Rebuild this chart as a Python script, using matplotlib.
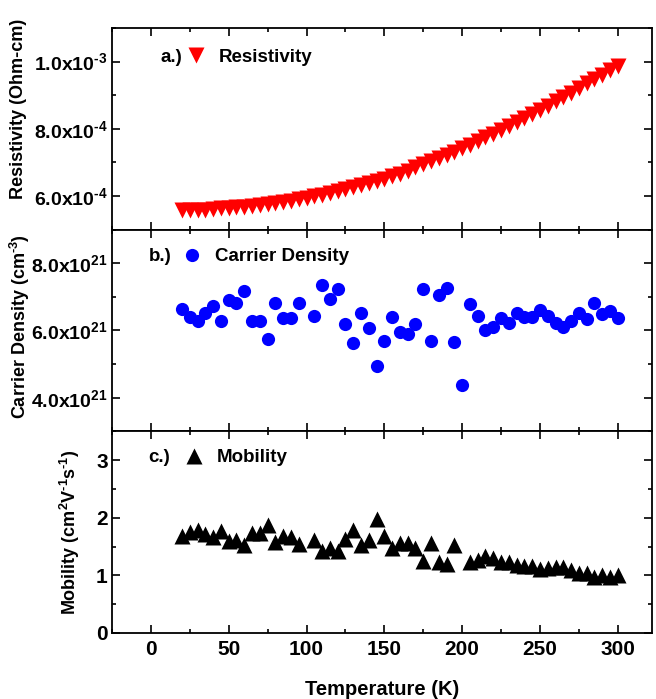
import matplotlib
matplotlib.use("Agg")
import matplotlib.pyplot as plt
from matplotlib.ticker import MultipleLocator, FixedLocator, FixedFormatter
from matplotlib.lines import Line2D

plt.rcParams['font.family'] = ['Liberation Sans', 'DejaVu Sans']
plt.rcParams['font.weight'] = 'bold'
plt.rcParams['mathtext.fontset'] = 'custom'
plt.rcParams['mathtext.rm'] = 'Liberation Sans:bold'
plt.rcParams['mathtext.bf'] = 'Liberation Sans:bold'
plt.rcParams['mathtext.default'] = 'bf'

# ---------------- data ----------------
temp_rho = [20, 25, 30, 35, 40, 45, 50, 55, 60, 65, 70, 75, 80, 85, 90, 95, 100,
            105, 110, 115, 120, 125, 130, 135, 140, 145, 150, 155, 160, 165, 170,
            175, 180, 185, 190, 195, 200, 205, 210, 215, 220, 225, 230, 235, 240,
            245, 250, 255, 260, 265, 270, 275, 280, 285, 290, 295, 300]
resistivity_e4 = [5.59, 5.59, 5.60, 5.60, 5.61, 5.63, 5.64, 5.66, 5.68, 5.71, 5.73,
                  5.76, 5.79, 5.83, 5.86, 5.90, 5.95, 5.99, 6.04, 6.09, 6.14, 6.20,
                  6.26, 6.32, 6.38, 6.45, 6.52, 6.59, 6.67, 6.75, 6.85, 6.94, 7.03,
                  7.12, 7.22, 7.32, 7.43, 7.53, 7.64, 7.75, 7.86, 7.97, 8.08, 8.20,
                  8.32, 8.44, 8.57, 8.69, 8.82, 8.95, 9.08, 9.21, 9.35, 9.48, 9.61,
                  9.74, 9.86]

temp_n = [20, 25, 30, 35, 40, 45, 50, 55, 60, 65, 70, 75, 80, 85, 90, 95,
          105, 110, 115, 120, 125, 130, 135, 140, 145, 150, 155, 160, 165, 170,
          175, 180, 185, 190, 195, 200, 205, 210, 215, 220, 225, 230, 235, 240,
          245, 250, 255, 260, 265, 270, 275, 280, 285, 290, 295, 300]
density_e21 = [6.63, 6.41, 6.27, 6.53, 6.74, 6.28, 6.90, 6.83, 7.18, 6.29, 6.29,
               5.75, 6.83, 6.38, 6.38, 6.83, 6.43, 7.34, 6.95, 7.22, 6.19, 5.63,
               6.51, 6.07, 4.94, 5.68, 6.41, 5.95, 5.89, 6.19, 7.22, 5.70, 7.07,
               7.27, 5.65, 4.37, 6.78, 6.44, 6.02, 6.10, 6.36, 6.22, 6.53, 6.41,
               6.41, 6.61, 6.43, 6.22, 6.09, 6.27, 6.51, 6.33, 6.81, 6.48, 6.59,
               6.36]

temp_mu = [20, 25, 30, 35, 40, 45, 50, 55, 60, 65, 70, 75, 80, 85, 90, 95,
           105, 110, 115, 120, 125, 130, 135, 140, 145, 150, 155, 160, 165, 170,
           175, 180, 185, 190, 195, 205, 210, 215, 220, 225, 230, 235, 240,
           245, 250, 255, 260, 265, 270, 275, 280, 285, 290, 295, 300]
mobility = [1.69, 1.76, 1.79, 1.72, 1.66, 1.77, 1.60, 1.61, 1.53, 1.74, 1.73,
            1.87, 1.58, 1.68, 1.67, 1.55, 1.62, 1.42, 1.47, 1.42, 1.63, 1.78,
            1.52, 1.61, 1.97, 1.69, 1.48, 1.57, 1.57, 1.48, 1.25, 1.56, 1.24,
            1.20, 1.53, 1.23, 1.27, 1.34, 1.31, 1.24, 1.24, 1.18, 1.17, 1.16,
            1.11, 1.12, 1.14, 1.15, 1.10, 1.05, 1.05, 0.98, 1.00, 0.98, 1.00]

x_ticks = [0, 50, 100, 150, 200, 250, 300]
x_tick_labels = ['0', '50', '100', '150', '200', '250', '300']
rho_ticks = [6.0e-4, 8.0e-4, 1.0e-3]
rho_tick_labels = [r'6.0x10$^{\text{-4}}$', r'8.0x10$^{\text{-4}}$', r'1.0x10$^{\text{-3}}$']
n_ticks = [4.0e21, 6.0e21, 8.0e21]
n_tick_labels = [r'4.0x10$^{21}$', r'6.0x10$^{21}$', r'8.0x10$^{21}$']
mu_ticks = [0, 1, 2, 3]
mu_tick_labels = ['0', '1', '2', '3']

rho_vals = [v * 1e-4 for v in resistivity_e4]
n_vals = [v * 1e21 for v in density_e21]

# ---------------- figure ----------------
fig = plt.figure(figsize=(6.56, 6.99), dpi=100)
left, right, top, bottom = 112 / 656, 652 / 656, 1 - 28 / 699, 1 - 633 / 699
h = (top - bottom) / 3
axes = [fig.add_axes([left, top - (i + 1) * h, right - left, h]) for i in range(3)]
ax_a, ax_b, ax_c = axes

ms_tri = 11
ax_a.plot(temp_rho, rho_vals, 'v', color='#ff0000', ms=ms_tri, mec='none', ls='none')
ax_b.plot(temp_n, n_vals, 'o', color='#0000ff', ms=9.5, mec='none', ls='none')
ax_c.plot(temp_mu, mobility, '^', color='black', ms=ms_tri, mec='none', ls='none')

ax_a.set_ylim(5.0e-4, 1.1e-3)
ax_b.set_ylim(3.0e21, 9.0e21)
ax_c.set_ylim(0, 3.5)

ax_a.yaxis.set_major_locator(FixedLocator(rho_ticks))
ax_a.yaxis.set_major_formatter(FixedFormatter(rho_tick_labels))
ax_a.yaxis.set_minor_locator(MultipleLocator(1e-4))
ax_b.yaxis.set_major_locator(FixedLocator(n_ticks))
ax_b.yaxis.set_major_formatter(FixedFormatter(n_tick_labels))
ax_b.yaxis.set_minor_locator(MultipleLocator(1e21))
ax_c.yaxis.set_major_locator(FixedLocator(mu_ticks))
ax_c.yaxis.set_major_formatter(FixedFormatter(mu_tick_labels))
ax_c.yaxis.set_minor_locator(MultipleLocator(0.5))

for ax in axes:
    ax.set_xlim(-25, 322)
    ax.xaxis.set_major_locator(FixedLocator(x_ticks))
    ax.xaxis.set_minor_locator(MultipleLocator(25))
    ax.tick_params(which='both', direction='in', top=True, right=True, width=1.2)
    ax.tick_params(which='major', length=6, labelsize=15, pad=3)
    ax.tick_params(which='minor', length=3)
    for s in ax.spines.values():
        s.set_linewidth(1.3)
    if ax is not ax_c:
        ax.tick_params(labelbottom=False)
ax_a.tick_params(axis='y', labelsize=14)
ax_b.tick_params(axis='y', labelsize=14)

ax_c.xaxis.set_major_formatter(FixedFormatter(x_tick_labels))
ax_c.tick_params(axis='x', pad=5)

lab_kw = dict(fontsize=13, fontweight='bold')
ax_a.set_ylabel('Resistivity (Ohm-cm)', **lab_kw)
ax_b.set_ylabel(r'Carrier Density (cm$^{\text{-3}}$)', **lab_kw)
ax_c.set_ylabel(r'Mobility (cm$^{2}$V$^{\text{-1}}$s$^{\text{-1}}$)', **lab_kw)
ax_a.yaxis.set_label_coords(-0.158, 0.60)
ax_b.yaxis.set_label_coords(-0.148, 0.52)
ax_c.yaxis.set_label_coords(-0.056, 0.5)
ax_c.set_xlabel('Temperature (K)', fontsize=14.5, fontweight='bold', labelpad=15)

# panel labels + legends
def panel(ax, letter, text, y, marker, color, ms, xletter, xleg):
    ax.text(xletter, y, letter, transform=ax.transAxes, fontsize=13.5,
            fontweight='bold', va='center', ha='left')
    h = Line2D([], [], marker=marker, color=color, ms=ms, mec='none', ls='none')
    ax.legend([h], [text], loc='center left', bbox_to_anchor=(xleg, y),
              frameon=False, handlelength=0.6, handletextpad=0.9,
              borderpad=0, borderaxespad=0,
              prop=dict(size=13.5, weight='bold'))

panel(ax_a, 'a.)', 'Resistivity', 0.855, 'v', '#ff0000', ms_tri, 0.090, 0.145)
panel(ax_b, 'b.)', 'Carrier Density', 0.865, 'o', '#0000ff', 9.5, 0.068, 0.138)
panel(ax_c, 'c.)', 'Mobility', 0.87, '^', 'black', ms_tri, 0.068, 0.142)

fig.savefig('out.png', dpi=100)
